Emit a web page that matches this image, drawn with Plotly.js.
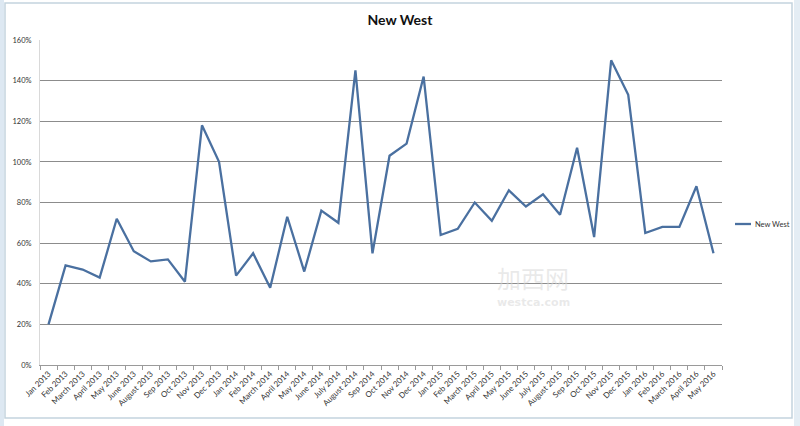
<!DOCTYPE html>
<html>
<head>
<meta charset="utf-8">
<script src="https://cdn.plot.ly/plotly-3.0.1.min.js"></script>
<style>html,body{margin:0;padding:0;background:#fff;}#chart{width:800px;height:426px;}</style>
</head>
<body>
<div id="chart"></div>
<script>
const seriesName = "New West";
const months = [
  "Jan 2013","Feb 2013","March 2013","April 2013","May 2013","June 2013","August 2013","Sep 2013","Oct 2013","Nov 2013","Dec 2013",
  "Jan 2014","Feb 2014","March 2014","April 2014","May 2014","June 2014","July 2014","August 2014","Sep 2014","Oct 2014","Nov 2014","Dec 2014",
  "Jan 2015","Feb 2015","March 2015","April 2015","May 2015","June 2015","July 2015","August 2015","Sep 2015","Oct 2015","Nov 2015","Dec 2015",
  "Jan 2016","Feb 2016","March 2016","April 2016","May 2016"
];
const values = [
  20,49,47,43,72,56,51,52,41,118,100,
  44,55,38,73,46,76,70,145,55,103,109,142,
  64,67,80,71,86,78,84,74,107,63,150,133,
  65,68,68,88,55
];
const yTicks = [0,20,40,60,80,100,120,140,160];

const FONT = "Lato, 'Liberation Sans', sans-serif";
const LINE = "#4a70a0";

// pixel helpers for plot area (40..722 x, 40..365 y)
const L = 40, R = 722, T = 40, B = 365;
const px = x => (x - L) / (R - L);
const py = y => (B - y) / (B - T);

const trace = {
  type: "scatter",
  mode: "lines",
  x: months,
  y: values,
  name: seriesName,
  line: {color: LINE, width: 2.3},
  showlegend: false,
  hoverinfo: "x+y"
};

const layout = {
  width: 800, height: 426,
  margin: {l: L, r: 800 - R, t: T, b: 426 - B, pad: 0},
  paper_bgcolor: "#ffffff",
  plot_bgcolor: "#ffffff",
  font: {family: FONT, color: "#333"},
  title: {text: "<b>New West</b>", font: {family: FONT, size: 14, color: "#111"}, x: 0.5, xanchor: "center", y: 1 - 20/426, yanchor: "middle"},
  xaxis: {
    type: "category",
    tickangle: -45,
    tickfont: {family: FONT, size: 8, color: "#333"},
    ticks: "outside", ticklen: 4, tickcolor: "#9a9a9a",
    tickson: "boundaries",
    showline: true, linecolor: "#9a9a9a", linewidth: 1,
    showgrid: false, zeroline: false,
    range: [-0.5, months.length - 0.5]
  },
  yaxis: {
    range: [0, 160],
    tickvals: yTicks,
    ticktext: yTicks.map(v => v + "%"),
    tickfont: {family: FONT, size: 7.5, color: "#333"},
    showgrid: true, gridcolor: "#8c8c8c", gridwidth: 1,
    showline: true, linecolor: "#d9d9d9", linewidth: 1,
    zeroline: false, ticks: "", ticklabelstandoff: 6
  },
  shapes: [
    {type: "rect", xref: "paper", yref: "paper", x0: px(5), x1: px(792), y0: py(418), y1: py(3),
     line: {color: "#c4d4de", width: 1.5}, fillcolor: "rgba(0,0,0,0)", layer: "below"},
    {type: "rect", xref: "paper", yref: "paper", x0: px(0), x1: px(4), y0: py(426), y1: py(0),
     line: {width: 0}, fillcolor: "#dde8f2", layer: "below"},
    {type: "rect", xref: "paper", yref: "paper", x0: px(794), x1: px(800), y0: py(426), y1: py(0),
     line: {width: 0}, fillcolor: "#e4edf4", layer: "below"},
    {type: "line", xref: "paper", yref: "paper", x0: px(735), x1: px(751), y0: py(224), y1: py(224),
     line: {color: LINE, width: 2.3}}
  ],
  annotations: [
    {xref: "paper", yref: "paper", x: px(753), y: py(224), xanchor: "left", yanchor: "middle",
     text: seriesName, showarrow: false, font: {family: FONT, size: 7.5, color: "#333"}},
    {xref: "paper", yref: "paper", x: px(533), y: py(277), xanchor: "center", yanchor: "middle",
     text: "加西网", showarrow: false, font: {family: "'Noto Sans CJK SC', sans-serif", size: 24, color: "rgba(215,215,215,0.55)"}},
    {xref: "paper", yref: "paper", x: px(533), y: py(302), xanchor: "center", yanchor: "middle",
     text: "<b>westca.com</b>", showarrow: false, font: {family: "'DejaVu Sans', sans-serif", size: 11, color: "rgba(215,215,215,0.55)"}}
  ]
};

Plotly.newPlot("chart", [trace], layout, {displayModeBar: false, staticPlot: true});
</script>
</body>
</html>
